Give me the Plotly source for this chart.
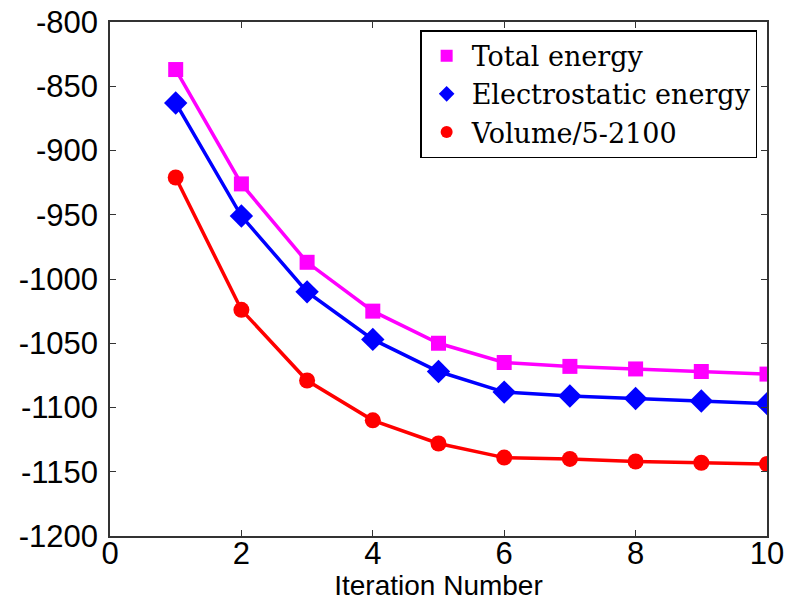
import plotly.graph_objects as go

iterations = [1, 2, 3, 4, 5, 6, 7, 8, 9, 10]
total_energy = [-837, -926, -987, -1025, -1050, -1065, -1068, -1070, -1072, -1074]
electrostatic_energy = [-863, -951, -1010, -1047, -1072, -1088, -1091, -1093, -1095, -1097]
volume_scaled = [-921, -1024, -1079, -1110, -1128, -1139, -1140, -1142, -1143, -1144]

x_ticks = [0, 2, 4, 6, 8, 10]
y_ticks = [-1200, -1150, -1100, -1050, -1000, -950, -900, -850, -800]
y_tick_labels = ["-1200", "-1150", "-1100", "-1050", "-1000", "-950", "-900", "-850", "-800"]

names = ["Total energy", "Electrostatic energy", "Volume/5-2100"]
colors = ["#ff00ff", "#0000ff", "#ff0000"]
symbols = ["square", "diamond", "circle"]
sizes = [15, 18, 16]
series = [total_energy, electrostatic_energy, volume_scaled]

fig = go.Figure()
for name, col, sym, sz, ys in zip(names, colors, symbols, sizes, series):
    fig.add_trace(go.Scatter(x=iterations, y=ys, mode="lines+markers", name=name,
                             line=dict(color=col, width=3.5),
                             marker=dict(color=col, symbol=sym, size=sz),
                             showlegend=False))
for name, col, sym, sz in zip(names, colors, symbols, sizes):
    fig.add_trace(go.Scatter(x=[None], y=[None], mode="markers", name=name,
                             marker=dict(color=col, symbol=sym, size=sz - 2)))

tick_font = dict(family="Liberation Sans, Arial", size=31, color="black")
axis_common = dict(showgrid=False, zeroline=False, showline=True, linecolor="#333333",
                   linewidth=1.5, mirror="allticks", ticks="inside", ticklen=6,
                   tickcolor="#333333", automargin=False, tickfont=tick_font)

fig.update_layout(
    width=787, height=601,
    margin=dict(l=110, r=20, t=22, b=65),
    paper_bgcolor="white", plot_bgcolor="white",
    xaxis=dict(range=[0, 10], tickvals=x_ticks, ticklabelstandoff=-11,
               title=dict(text="Iteration Number", standoff=0,
                          font=dict(family="Liberation Sans, Arial", size=28, color="black")),
               **axis_common),
    yaxis=dict(range=[-1200, -800], tickvals=y_ticks, ticktext=y_tick_labels,
               ticklabelstandoff=4, **axis_common),
    legend=dict(x=0.985, y=0.984, xanchor="right", yanchor="top",
                bgcolor="white", bordercolor="black", borderwidth=1.5,
                font=dict(family="DejaVu Serif, Liberation Serif", size=27, color="black"),
                itemsizing="constant", itemwidth=40, tracegroupgap=0),
    showlegend=True,
)

fig.write_html("out.html")
